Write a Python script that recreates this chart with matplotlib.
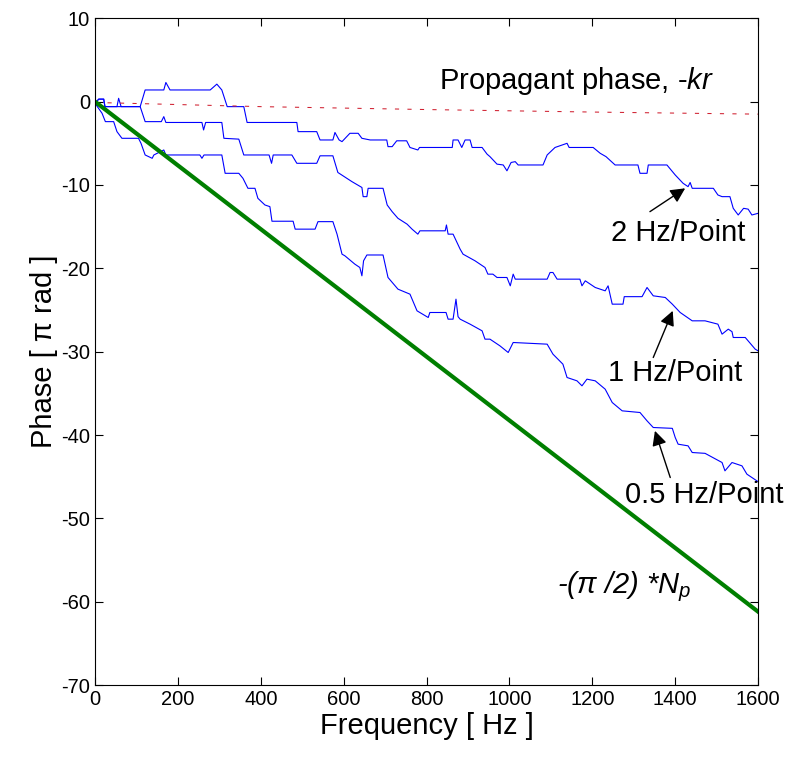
import numpy as np
import matplotlib
matplotlib.use("Agg")
import matplotlib.pyplot as plt

plt.rcParams['font.family'] = ['Liberation Sans', 'DejaVu Sans']
plt.rcParams['mathtext.fontset'] = 'custom'
plt.rcParams['mathtext.rm'] = 'Liberation Sans'
plt.rcParams['mathtext.it'] = 'Liberation Sans:italic'
plt.rcParams['axes.unicode_minus'] = False

# unwrapped phase [pi rad] vs frequency [Hz]
freq_2hz = [0, 9, 21, 24, 53, 57, 63, 109, 121, 166, 171, 181, 278, 294, 306, 319, 359, 367,
            487, 490, 535, 543, 574, 579, 589, 596, 615, 635, 644, 664, 704, 707, 717, 728,
            752, 760, 779, 783, 862, 864, 876, 885, 893, 905, 910, 934, 946, 953, 970, 985,
            994, 1004, 1014, 1021, 1081, 1091, 1110, 1139, 1144, 1202, 1219, 1233, 1255,
            1310, 1315, 1332, 1335, 1380, 1400, 1419, 1431, 1436, 1441, 1492, 1503, 1513,
            1532, 1540, 1552, 1565, 1576, 1585, 1600]
phase_2hz = [-0.2, 0.3, 0.3, -0.6, -0.6, 0.4, -0.6, -0.6, 1.4, 1.4, 2.3, 1.4, 1.4, 2.1, 1.4, -0.6, -0.6, -2.5,
             -2.5, -3.6, -3.6, -4.6, -4.6, -3.7, -4.6, -4.8, -3.8, -3.8, -4.4, -4.6, -4.6, -5.4, -5.4, -4.7,
             -4.7, -5.5, -5.8, -5.5, -5.5, -4.6, -4.6, -5.5, -4.6, -4.6, -5.5, -5.5, -6.3, -6.6, -7.5, -7.6,
             -8.3, -7.3, -7.2, -7.6, -7.6, -6.4, -5.5, -5.0, -5.5, -5.5, -6.2, -6.6, -7.6,
             -7.6, -8.6, -8.6, -7.6, -7.6, -8.8, -9.8, -10.2, -9.7, -10.4, -10.4, -11.2, -11.4,
             -11.4, -12.8, -13.6, -12.8, -12.9, -13.6, -13.4]

freq_1hz = [0, 9, 21, 24, 109, 121, 160, 166, 171, 258, 262, 267, 306, 311, 347, 359, 420,
            426, 430, 475, 487, 535, 543, 574, 586, 620, 644, 647, 656, 659, 695, 705, 717,
            731, 753, 765, 779, 784, 845, 848, 852, 864, 881, 888, 917, 941, 948, 960, 970,
            994, 1002, 1009, 1014, 1091, 1098, 1105, 1115, 1170, 1175, 1183, 1207, 1231,
            1238, 1248, 1274, 1277, 1320, 1332, 1347, 1376, 1393, 1412, 1441, 1472, 1503,
            1513, 1528, 1537, 1540, 1569, 1593, 1600]
phase_1hz = [-0.2, 0.3, 0.3, -0.6, -0.6, -2.4, -2.4, -1.8, -2.5, -2.5, -3.4, -2.5, -2.5, -4.4, -4.5, -6.4, -6.4,
             -7.4, -6.4, -6.4, -7.4, -7.4, -6.5, -6.5, -8.5, -9.6, -10.3, -11.4, -11.4, -10.4, -10.4, -12.4, -13.2,
             -14.0, -14.7, -15.3, -15.9, -15.5, -15.5, -14.8, -15.9, -15.9, -17.7, -18.3, -19.1, -19.9, -20.7, -20.7, -21.1,
             -21.1, -22.1, -20.7, -21.3, -21.3, -20.5, -20.5, -21.3, -21.3, -22.1, -21.5, -22.3, -22.7,
             -22.1, -24.3, -24.3, -23.4, -23.4, -22.3, -23.3, -23.5, -24.3, -25.3, -26.3, -26.3, -26.7,
             -27.9, -27.3, -27.6, -28.3, -28.3, -29.7, -29.9]

freq_05hz = [0, 17, 25, 45, 53, 65, 105, 111, 121, 138, 142, 166, 171, 253, 258, 263, 306,
             314, 347, 357, 369, 386, 393, 410, 422, 427, 478, 483, 531, 538, 574, 584, 596,
             603, 627, 639, 644, 648, 656, 695, 707, 731, 760, 777, 804, 808, 847, 852, 864,
             871, 876, 881, 905, 934, 941, 953, 977, 997, 1009, 1091, 1105, 1129, 1139, 1163,
             1175, 1187, 1207, 1231, 1248, 1272, 1315, 1332, 1347, 1393, 1400, 1407, 1431,
             1441, 1472, 1513, 1520, 1537, 1561, 1573, 1588, 1600]
phase_05hz = [-0.2, -1.4, -2.4, -2.4, -3.6, -4.4, -4.4, -5.0, -6.4, -6.8, -6.4, -5.8, -6.4, -6.4, -6.8, -6.4, -6.4,
              -8.6, -8.6, -9.2, -10.4, -10.4, -11.6, -12.4, -12.6, -14.35, -14.35, -15.3, -15.3, -14.4, -14.4, -15.9, -18.3,
              -18.5, -19.5, -19.9, -20.9, -19.1, -18.4, -18.4, -21.1, -22.5, -23.1, -25.1, -25.9, -25.3, -25.3, -26.1, -26.1,
              -23.7, -25.8, -26.1, -26.7, -27.5, -28.5, -28.5, -29.3, -30.1, -28.9, -29.1, -30.3, -31.5, -33.1, -33.5,
              -34.1, -33.3, -33.5, -34.5, -36.1, -37.1, -37.3, -38.3, -39.1, -39.2, -40.3, -41.1, -41.3,
              -42.1, -42.2, -43.3, -44.3, -43.3, -43.7, -44.7, -45.2, -45.6]

# -(pi/2)*Np reference line and propagation phase -kr
freq_np = [0, 1600]
phase_np = [0, -61.2]
freq_kr = [0, 400, 800, 1200, 1600]
phase_kr = [-0.1, -0.6, -0.95, -1.25, -1.5]

fig = plt.figure(figsize=(7.93, 7.62), dpi=100)
ax = fig.add_axes([0.1198, 0.101, 0.8362, 0.875])

for f, p in [(freq_2hz, phase_2hz), (freq_1hz, phase_1hz), (freq_05hz, phase_05hz)]:
    ax.plot(f, p, color='#0000ff', lw=0.8)
ax.plot(freq_kr, phase_kr, color='#d02030', lw=0.75, dashes=(4, 8))
ax.plot(freq_np, phase_np, color='#007f00', lw=3)

ax.set_xlim(0, 1600)
ax.set_ylim(-70, 10)
ax.set_xticks(np.arange(0, 1601, 200))
ax.set_yticks(np.arange(-70, 11, 10))
ax.tick_params(direction='in', top=True, right=True, labelsize=14.5, length=6, width=0.8)
for s in ax.spines.values():
    s.set_linewidth(0.8)

ax.set_xlabel('Frequency [ Hz ]', fontsize=21, labelpad=2)
ax.set_ylabel('Phase [ π rad ]', fontsize=21, labelpad=2)

# U+2010 hyphen so mathtext does not turn it into a minus sign
ax.text(830, 1.5, 'Propagant phase, $\\mathit{\u2010kr}$', fontsize=21, ha='left', va='baseline')
ax.text(1115, -59.0, '-(π /2) *N$_p$', fontsize=21, style='italic', ha='left', va='baseline')

arr = dict(arrowstyle='-|>', color='k', lw=1, mutation_scale=22, shrinkA=0, shrinkB=0)
ax.text(1246, -16.7, '2 Hz/Point', fontsize=21, ha='left', va='baseline')
ax.annotate('', xy=(1424, -10.4), xytext=(1339, -13.2), arrowprops=arr)
ax.text(1238, -33.5, '1 Hz/Point', fontsize=21, ha='left', va='baseline')
ax.annotate('', xy=(1394, -25.1), xytext=(1347, -30.7), arrowprops=arr)
ax.text(1279, -48.1, '0.5 Hz/Point', fontsize=21, ha='left', va='baseline')
ax.annotate('', xy=(1351, -39.5), xytext=(1388, -45.1), arrowprops=arr)

fig.savefig('out.png', dpi=100)
